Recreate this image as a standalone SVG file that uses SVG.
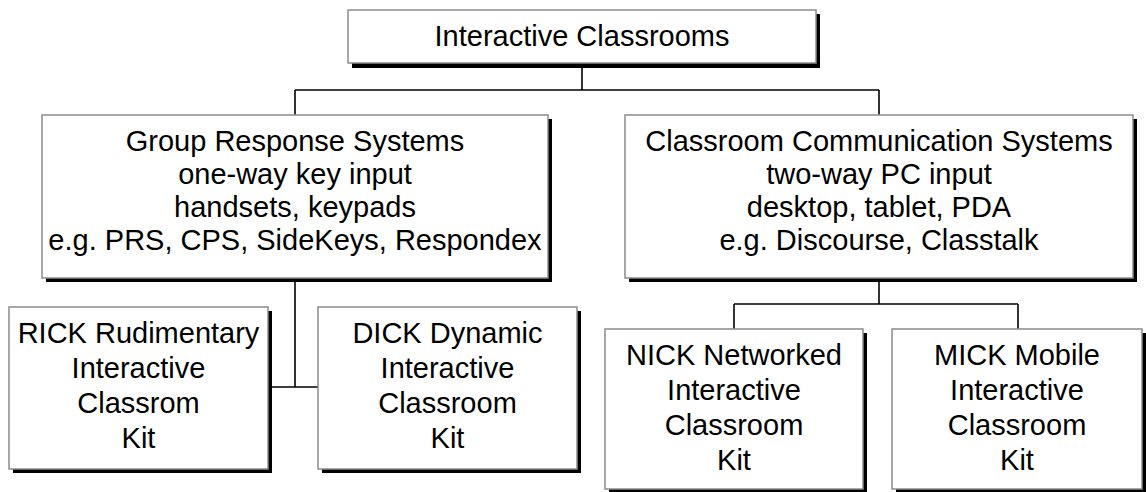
<svg xmlns="http://www.w3.org/2000/svg" width="1146" height="492" viewBox="0 0 1146 492">
<style>
.box{fill:#fff;stroke:#8c8c8c;stroke-width:1.5}
.sh{fill:#000}
.t{font-family:"Liberation Sans",Arial,sans-serif;font-size:29px;fill:#000;text-anchor:middle}
.c{stroke:#000;stroke-width:1.6;fill:none}
</style>
<rect width="1146" height="492" fill="#fff"/>
<g id="connectors">
<path class="c" d="M582 66V90M295 90H879M295 90V115M879 90V115"/>
<path class="c" d="M295 280V387M270 387H318"/>
<path class="c" d="M879 280V304M734 304H1018M734 304V329M1018 304V329"/>
</g>
<g id="n-top">
<rect class="sh" x="352" y="14" width="468" height="54"/>
<rect class="box" x="348" y="10" width="468" height="53"/>
<text class="t" x="582" y="46">Interactive Classrooms</text>
</g>
<g id="n-grs">
<rect class="sh" x="46" y="119" width="506" height="163"/>
<rect class="box" x="42" y="115" width="506" height="163"/>
<text class="t" x="295" y="151">Group Response Systems</text>
<text class="t" x="295" y="184">one-way key input</text>
<text class="t" x="295" y="217">handsets, keypads</text>
<text class="t" x="295" y="250">e.g. PRS, CPS, SideKeys, Respondex</text>
</g>
<g id="n-ccs">
<rect class="sh" x="629" y="119" width="508" height="163"/>
<rect class="box" x="625" y="115" width="508" height="163"/>
<text class="t" x="879" y="151">Classroom Communication Systems</text>
<text class="t" x="879" y="184">two-way PC input</text>
<text class="t" x="879" y="217">desktop, tablet, PDA</text>
<text class="t" x="879" y="250">e.g. Discourse, Classtalk</text>
</g>
<g id="n-rick">
<rect class="sh" x="13" y="311" width="259" height="162"/>
<rect class="box" x="9" y="307" width="259" height="162"/>
<text class="t" x="138.5" y="343">RICK Rudimentary</text>
<text class="t" x="138.5" y="378">Interactive</text>
<text class="t" x="138.5" y="413">Classrom</text>
<text class="t" x="138.5" y="448">Kit</text>
</g>
<g id="n-dick">
<rect class="sh" x="322" y="311" width="259" height="162"/>
<rect class="box" x="318" y="307" width="259" height="162"/>
<text class="t" x="447.5" y="343">DICK Dynamic</text>
<text class="t" x="447.5" y="378">Interactive</text>
<text class="t" x="447.5" y="413">Classroom</text>
<text class="t" x="447.5" y="448">Kit</text>
</g>
<g id="n-nick">
<rect class="sh" x="609" y="333" width="258" height="162"/>
<rect class="box" x="605" y="329" width="258" height="160"/>
<text class="t" x="734" y="365">NICK Networked</text>
<text class="t" x="734" y="400">Interactive</text>
<text class="t" x="734" y="435">Classroom</text>
<text class="t" x="734" y="470">Kit</text>
</g>
<g id="n-mick">
<rect class="sh" x="896" y="333" width="250" height="162"/>
<rect class="box" x="892" y="329" width="250" height="160"/>
<text class="t" x="1017" y="365">MICK Mobile</text>
<text class="t" x="1017" y="400">Interactive</text>
<text class="t" x="1017" y="435">Classroom</text>
<text class="t" x="1017" y="470">Kit</text>
</g>
</svg>
